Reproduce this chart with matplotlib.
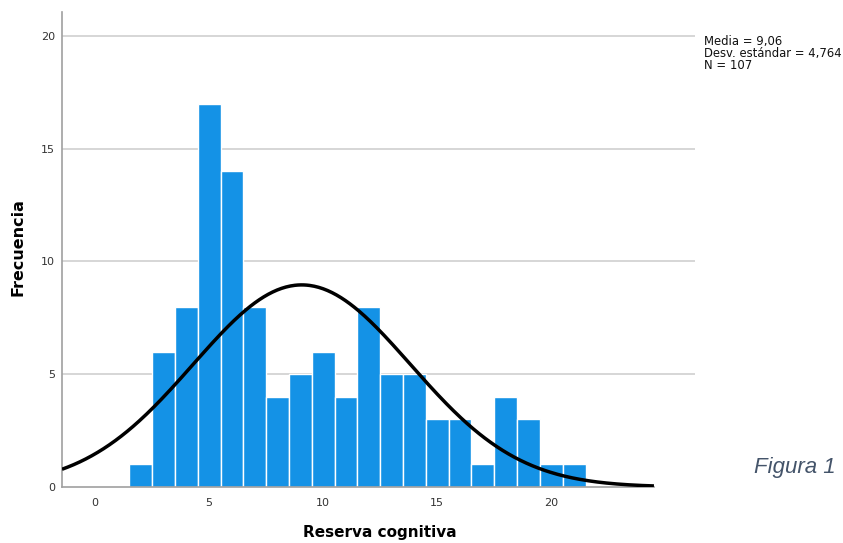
import numpy as np
import matplotlib
matplotlib.use("Agg")
import matplotlib.pyplot as plt

# Data
bin_centers = [2, 3, 4, 5, 6, 7, 8, 9, 10, 11, 12, 13, 14, 15, 16, 17, 18, 19, 20, 21]
counts = [1, 6, 8, 17, 14, 8, 4, 5, 6, 4, 8, 5, 5, 3, 3, 1, 4, 3, 1, 1]
mean_val = 9.06
sd_val = 4.764
n_val = 107
x_ticks = [0, 5, 10, 15, 20]
y_ticks = [0, 5, 10, 15, 20]

fig = plt.figure(figsize=(8.43, 5.43), dpi=100)
ax = fig.add_axes([62/843, 1-487/543, (695-62)/843, (487-12)/543])

x_left = -1.45
x_curve_end = 24.5
x_right = 26.3
ax.set_xlim(x_left, x_right)
ax.set_ylim(0, 21.06)

for y in y_ticks[1:]:
    ax.axhline(y, color="#d0d0d0", lw=1.2, zorder=0)

ax.bar(bin_centers, counts, width=1.0, color="#1492E6", edgecolor="white", linewidth=1.0, zorder=2)

xs = np.linspace(x_left, x_curve_end, 400)
ys = n_val * 1.0 / (sd_val * np.sqrt(2*np.pi)) * np.exp(-0.5*((xs-mean_val)/sd_val)**2)
ax.plot(xs, ys, color="black", lw=2.5, zorder=3, solid_capstyle="butt")

for s in ["top", "right"]:
    ax.spines[s].set_visible(False)
ax.spines["left"].set_color("#a0a0a0")
ax.spines["bottom"].set_color("#a0a0a0")
ax.spines["left"].set_linewidth(1.2)
ax.spines["bottom"].set_linewidth(1.2)
ax.spines["bottom"].set_bounds(x_left, x_curve_end)

ax.set_xticks(x_ticks)
ax.set_yticks(y_ticks)
ax.tick_params(length=0, labelsize=8, labelcolor="#333333", pad=8)
ax.tick_params(axis="y", pad=5)

fig.text(380/843, 1-533/543, "Reserva cognitiva", ha="center", va="center",
         fontsize=11, fontweight="bold")
fig.text(18/843, 1-247/543, "Frecuencia", ha="center", va="center", rotation=90,
         fontsize=11.5, fontweight="bold")

fig.text(704/843, 1-35/543, "Media = 9,06\nDesv. estándar = 4,764\nN = 107",
         ha="left", va="top", fontsize=8.4, linespacing=0.92, color="#111111")

fig.text(836/843, 1-468/543, "Figura 1", ha="right", va="center", fontsize=16,
         style="italic", color="#44546A", family=["Liberation Sans", "DejaVu Sans"])

fig.savefig("out.png", dpi=100)
